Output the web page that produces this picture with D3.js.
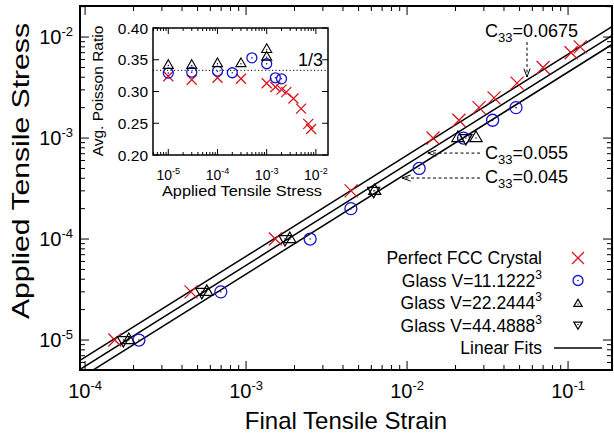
<!DOCTYPE html>
<html><head><meta charset="utf-8">
<script src="https://cdn.jsdelivr.net/npm/d3@7"></script>
<style>body{margin:0;background:#fff} text{font-family:"Liberation Sans",Arial,Helvetica,sans-serif;fill:#000}</style>
</head><body><svg id="c" width="614" height="436"></svg>
<script>
// ---------------- data ----------------
const fccStrain  = [1.53e-4, 4.55e-4, 1.52e-3, 4.49e-3, 1.45e-2, 0.0210, 0.0280, 0.0347, 0.0482, 0.0700, 0.1045, 0.1190];
const fccStress  = [1e-5, 3e-5, 1e-4, 3e-4, 1e-3, 1.5e-3, 2e-3, 2.5e-3, 3.5e-3, 5e-3, 7e-3, 8e-3];
const fccPoisson = [0.324, 0.3185, 0.3216, 0.320, 0.313, 0.307, 0.303, 0.299, 0.289, 0.273, 0.249, 0.241];

const g11Strain  = [2.16e-4, 6.97e-4, 2.5e-3, 4.48e-3, 0.01189, 0.0224, 0.0340, 0.0475];
const g11Stress  = [1e-5, 3e-5, 1e-4, 2e-4, 5e-4, 1e-3, 1.5e-3, 2e-3];
const g11Poisson = [0.329, 0.3305, 0.332, 0.3295, 0.353, 0.3437, 0.3216, 0.320];

const g22Strain  = [1.87e-4, 5.7e-4, 1.87e-3, 6.3e-3, 0.0207, 0.0268];
const g22Stress  = [1e-5, 3e-5, 1e-4, 3e-4, 1e-3, 1e-3];
const g22Poisson = [0.341, 0.341, 0.3437, 0.3437, 0.366, 0.354];

const g44Strain  = [1.73e-4, 5.31e-4, 1.746e-3, 6.2e-3, 0.0232];
const g44Stress  = [1e-5, 3e-5, 1e-4, 3e-4, 1e-3];

const fitSlopes  = [0.0675, 0.055, 0.045];
const fitLabels  = ["0.0675", "0.055", "0.045"];
const legendLabels = ["Perfect FCC Crystal", "Glass V=11.1222", "Glass V=22.2444", "Glass V=44.4888", "Linear Fits"];
const legendSup    = ["", "3", "3", "3", ""];
const xTickExps = [-4, -3, -2, -1];
const yTickExps = [-5, -4, -3, -2];
const insetXTickExps = [-5, -4, -3, -2];
const insetYTicks = [0.20, 0.25, 0.30, 0.35, 0.40];
const oneThird = 1/3;

// ---------------- setup ----------------
const RED = "#d9141b", BLUE = "#1414d2";
const svg = d3.select("#c");
const F = {l:80, r:612, t:6, b:370};
const x = d3.scaleLog().domain([9.3e-5, 0.1875]).range([F.l, F.r]);
const y = d3.scaleLog().domain([5.05e-6, 0.0203]).range([F.b, F.t]);

function minorVals(scale){
  const [a,b] = scale.domain(); const out=[];
  for(let d=Math.floor(Math.log10(a)); d<=Math.ceil(Math.log10(b)); d++)
    for(let k=1;k<=9;k++){const v=k*Math.pow(10,d); if(v>=a*0.999 && v<=b*1.001) out.push({v, major:k===1});}
  return out;
}
function xMark(g,cx,cy,r,col,w){g.append("path").attr("d",`M${cx-r},${cy-r}L${cx+r},${cy+r}M${cx-r},${cy+r}L${cx+r},${cy-r}`).attr("stroke",col).attr("stroke-width",w).attr("fill","none");}
function cMark(g,cx,cy,r,col,w){g.append("circle").attr("cx",cx).attr("cy",cy).attr("r",r).attr("stroke",col).attr("stroke-width",w).attr("fill","none");
  g.append("circle").attr("cx",cx).attr("cy",cy).attr("r",0.8).attr("fill",col);}
function tMark(g,cx,cy,s,up,w){const k=up?1:-1;
  g.append("path").attr("d",`M${cx},${cy-k*s}L${cx+0.87*s},${cy+k*0.5*s}L${cx-0.87*s},${cy+k*0.5*s}Z`).attr("stroke","#000").attr("stroke-width",w).attr("fill","none");
  g.append("circle").attr("cx",cx).attr("cy",cy).attr("r",0.7).attr("fill","#000");}
function powLabel(g,px,py,exp,fs,anchor){
  const t=g.append("text").attr("x",px).attr("y",py).attr("font-size",fs).attr("text-anchor",anchor);
  t.append("tspan").text("10");
  t.append("tspan").attr("dy",-fs*0.42).attr("font-size",fs*0.65).text("-"+Math.abs(exp));
  return t;
}

// ---------------- main frame + ticks ----------------
const axes = svg.append("g");
minorVals(x).forEach(({v,major})=>{const L=major?9:5, px=x(v);
  axes.append("line").attr("x1",px).attr("x2",px).attr("y1",F.b).attr("y2",F.b-L).attr("stroke","#000").attr("stroke-width",1);
  axes.append("line").attr("x1",px).attr("x2",px).attr("y1",F.t).attr("y2",F.t+L).attr("stroke","#000").attr("stroke-width",1);});
minorVals(y).forEach(({v,major})=>{const L=major?9:5, py=y(v);
  axes.append("line").attr("y1",py).attr("y2",py).attr("x1",F.l).attr("x2",F.l+L).attr("stroke","#000").attr("stroke-width",1);
  axes.append("line").attr("y1",py).attr("y2",py).attr("x1",F.r).attr("x2",F.r-L).attr("stroke","#000").attr("stroke-width",1);});
axes.append("rect").attr("x",F.l).attr("y",F.t).attr("width",F.r-F.l).attr("height",F.b-F.t).attr("fill","none").attr("stroke","#000").attr("stroke-width",2);

xTickExps.forEach(e=>powLabel(axes,x(Math.pow(10,e)),398,e,20,"middle"));
yTickExps.forEach(e=>powLabel(axes,73,y(Math.pow(10,e))+7,e,20,"end"));
axes.append("text").attr("x",(F.l+F.r)/2).attr("y",429).attr("text-anchor","middle").attr("font-size",24).text("Final Tensile Strain");
axes.append("text").attr("transform","translate(29,171) rotate(-90)").attr("text-anchor","middle").attr("font-size",24)
  .attr("textLength",296).attr("lengthAdjust","spacingAndGlyphs").text("Applied Tensile Stress");

// ---------------- fits ----------------
svg.append("clipPath").attr("id","clipM").append("rect").attr("x",F.l).attr("y",F.t).attr("width",F.r-F.l).attr("height",F.b-F.t);
const fitG = svg.append("g").attr("clip-path","url(#clipM)");
const [xs0,xs1]=x.domain();
fitSlopes.forEach(c=>{
  fitG.append("line").attr("x1",x(xs0)).attr("y1",y(c*xs0)).attr("x2",x(xs1)).attr("y2",y(c*xs1)).attr("stroke","#000").attr("stroke-width",1.5);
});

// ---------------- points ----------------
const pts = svg.append("g").attr("clip-path","url(#clipM)");
fccStrain.forEach((s,i)=>xMark(pts,x(s),y(fccStress[i]),6.5,RED,1.3));
g11Strain.forEach((s,i)=>cMark(pts,x(s),y(g11Stress[i]),6,BLUE,1.3));
g22Strain.forEach((s,i)=>tMark(pts,x(s),y(g22Stress[i]),7,true,1.2));
g44Strain.forEach((s,i)=>tMark(pts,x(s),y(g44Stress[i]),7,false,1.2));

// ---------------- annotations ----------------
const ann = svg.append("g");
function c33(px,py,val){const t=ann.append("text").attr("x",px).attr("y",py).attr("font-size",18);
  t.append("tspan").text("C"); t.append("tspan").attr("dy",5).attr("font-size",13).text("33");
  t.append("tspan").attr("dy",-5).text("="+val);}
function arrow(x1,y1,x2,y2){
  ann.append("line").attr("x1",x1).attr("y1",y1).attr("x2",x2).attr("y2",y2).attr("stroke","#000").attr("stroke-width",1).attr("stroke-dasharray","3,2.5");
  const a=Math.atan2(y1-y2,x1-x2), L=9, sp=0.35;
  ann.append("path").attr("d",`M${x2+L*Math.cos(a+sp)},${y2+L*Math.sin(a+sp)}L${x2},${y2}L${x2+L*Math.cos(a-sp)},${y2+L*Math.sin(a-sp)}`)
    .attr("fill","none").attr("stroke","#000").attr("stroke-width",1);
}
{const s=0.0556, tx=x(s), ty=y(fitSlopes[0]*s)-3; c33(485,37,fitLabels[0]); arrow(tx,42,tx,ty);}
{const st=7.1e-4, ty=y(st), tx=x(st/fitSlopes[1])+3; c33(485,159,fitLabels[1]); arrow(480,ty,tx,ty);}
{const st=4.02e-4, ty=y(st), tx=x(st/fitSlopes[2])+3; c33(485,183,fitLabels[2]); arrow(480,ty,tx,ty);}

// ---------------- legend ----------------
const leg = svg.append("g");
legendLabels.forEach((lab,i)=>{
  const cy=258+i*22.5;
  const t=leg.append("text").attr("x",542).attr("y",cy+6).attr("text-anchor","end").attr("font-size",17.5);
  t.append("tspan").text(lab);
  if(legendSup[i]) t.append("tspan").attr("dy",-8).attr("font-size",12).text(legendSup[i]);
  if(i===0) xMark(leg,578,cy,6,RED,1.3);
  if(i===1) cMark(leg,578,cy,5,BLUE,1.3);
  if(i===2) tMark(leg,578,cy+1,4.8,true,1.2);
  if(i===3) tMark(leg,578,cy-1,4.8,false,1.2);
  if(i===4) leg.append("line").attr("x1",554).attr("x2",602).attr("y1",cy).attr("y2",cy).attr("stroke","#000").attr("stroke-width",1.5);
});

// ---------------- inset ----------------
const I = {l:153, r:328, t:28, b:155};
const ix = d3.scaleLog().domain([4.89e-6, 0.01762]).range([I.l, I.r]);
const iy = d3.scaleLinear().domain([0.2, 0.4]).range([I.b, I.t]);
const ins = svg.append("g");
ins.append("rect").attr("x",I.l).attr("y",I.t).attr("width",I.r-I.l).attr("height",I.b-I.t).attr("fill","#fff");
minorVals(ix).forEach(({v,major})=>{const L=major?6:3, px=ix(v);
  ins.append("line").attr("x1",px).attr("x2",px).attr("y1",I.b).attr("y2",I.b-L).attr("stroke","#000").attr("stroke-width",1);
  ins.append("line").attr("x1",px).attr("x2",px).attr("y1",I.t).attr("y2",I.t+L).attr("stroke","#000").attr("stroke-width",1);});
insetYTicks.forEach(v=>{const py=iy(v);
  ins.append("line").attr("x1",I.l).attr("x2",I.l+6).attr("y1",py).attr("y2",py).attr("stroke","#000");
  ins.append("line").attr("x1",I.r).attr("x2",I.r-6).attr("y1",py).attr("y2",py).attr("stroke","#000");
  ins.append("text").attr("x",148).attr("y",py+5.5).attr("text-anchor","end").attr("font-size",15.5).text(v.toFixed(2));});
insetXTickExps.forEach(e=>powLabel(ins,ix(Math.pow(10,e)),180,e,14,"middle"));
ins.append("rect").attr("x",I.l).attr("y",I.t).attr("width",I.r-I.l).attr("height",I.b-I.t).attr("fill","none").attr("stroke","#000").attr("stroke-width",1.5);
ins.append("line").attr("x1",I.l).attr("x2",I.r).attr("y1",iy(oneThird)).attr("y2",iy(oneThird)).attr("stroke","#000").attr("stroke-width",1).attr("stroke-dasharray","1.2,2.3");
ins.append("text").attr("x",323).attr("y",66).attr("text-anchor","end").attr("font-size",18).text("1/3");
ins.append("text").attr("x",162).attr("y",196).attr("font-size",15)
  .attr("textLength",160).attr("lengthAdjust","spacingAndGlyphs").text("Applied Tensile Stress");
ins.append("text").attr("transform","translate(103,91) rotate(-90)").attr("text-anchor","middle").attr("font-size",15.5).text("Avg. Poisson Ratio");
fccStress.forEach((s,i)=>xMark(ins,ix(s),iy(fccPoisson[i]),5,RED,1.3));
g11Stress.forEach((s,i)=>cMark(ins,ix(s),iy(g11Poisson[i]),5,BLUE,1.3));
g22Stress.forEach((s,i)=>tMark(ins,ix(s),iy(g22Poisson[i]),5.8,true,1.1));
</script></body></html>
